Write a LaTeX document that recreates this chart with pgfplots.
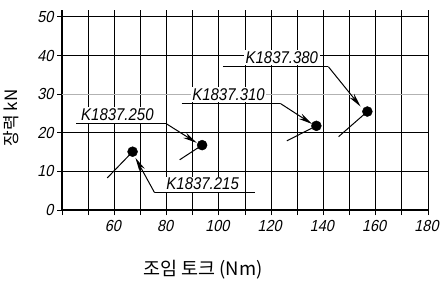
\documentclass[border=0pt]{standalone}
\usepackage{pgfplots}
\pgfplotsset{compat=1.18}
\usepackage{fontspec}
\setmainfont{Liberation Sans}
\newfontfamily\cond[FakeStretch=0.88]{Liberation Sans}
\newfontfamily\tickf[FakeStretch=0.9,FakeSlant=0.21]{Liberation Sans}
\newfontfamily\kr{Noto Sans CJK KR}
\usetikzlibrary{arrows.meta}
\newcommand\tf[1]{\hbox{\fontsize{16}{16}\selectfont\tickf #1}}

\begin{document}
\begin{tikzpicture}
\useasboundingbox (0,0) rectangle (441pt,284pt);
\begin{axis}[
 at={(62pt,74pt)}, anchor=south west,
 scale only axis, width=366pt, height=200pt,
 xmin=40, xmax=180, ymin=0, ymax=51.8,
 axis x line=bottom, axis y line=left,
 axis line style={-, line width=1.3pt, black},
 xtick={60,80,...,180}, minor xtick={40,50,...,170},
 xticklabels={\tf{60},\tf{80},\tf{100},\tf{120},\tf{140},\tf{160},\tf{180}},
 ytick={0,10,20,40,50}, yticklabels={\tf{0},\tf{10},\tf{20},\tf{40},\tf{50}},
 extra y ticks={30}, extra y tick labels={\tf{30}},
 extra y tick style={grid=major, major grid style={gray!60, line width=1pt}},
 grid=both,
 major grid style={black, line width=1pt},
 minor grid style={black, line width=1pt},
 tick align=outside, major tick length=5pt, minor tick length=5pt,
 tick style={black, line width=1pt},
 xticklabel style={yshift=-2pt, xshift=-1.5pt},
 clip=false,
]
% short lines from points
\addplot[black, line width=1pt] coordinates {(57.3,8.3) (67,15.1)};
\addplot[black, line width=1pt] coordinates {(85,13) (93.6,16.8)};
\addplot[black, line width=1pt] coordinates {(126,17.9) (137.3,21.8)};
\addplot[black, line width=1pt] coordinates {(145.8,19) (156.8,25.5)};
% data points
\addplot[only marks, mark=*, mark size=5pt, black] coordinates {(67,15.1) (93.6,16.8) (137.3,21.8) (156.8,25.5)};

% annotations
\tikzset{lbl/.style={fill=white, inner sep=1.5pt, font=\fontsize{17}{17}\selectfont\cond\itshape}}
\tikzset{arr/.style={line width=1pt, -{Stealth[length=14pt,width=6pt]}}}

\node[lbl] at (axis cs:61.2,24.6) {K1837.250};
\draw[line width=1pt] (axis cs:45.4,22.3) -- (axis cs:80,22.3);
\draw[arr] (axis cs:80,22.3) -- (axis cs:91.5,17.4);

\node[lbl] at (axis cs:103.7,29.8) {K1837.310};
\draw[line width=1pt] (axis cs:85.8,27.6) -- (axis cs:123.5,27.6);
\draw[arr] (axis cs:123.5,27.6) -- (axis cs:135.6,22.3);

\node[lbl] at (axis cs:124.1,39.5) {K1837.380};
\draw[line width=1pt] (axis cs:101.5,37.1) -- (axis cs:141.9,37.1);
\draw[arr] (axis cs:141.9,37.1) -- (axis cs:154.2,26.8);

\node[lbl] at (axis cs:93.8,6.7) {K1837.215};
\draw[line width=1pt] (axis cs:75.4,4.5) -- (axis cs:113.8,4.5);
\draw[arr] (axis cs:75.4,4.5) -- (axis cs:68.1,13.5);
\end{axis}
\node[rotate=90, font=\fontsize{17}{17}\selectfont\kr] at (11pt,166pt) {장력 kN};
\node[font=\fontsize{18.5}{18.5}\selectfont\kr] at (203pt,14pt) {조임 토크 (Nm)};
\end{tikzpicture}
\end{document}
